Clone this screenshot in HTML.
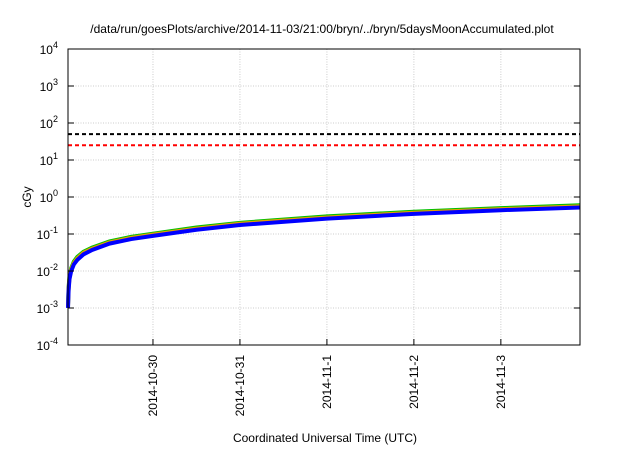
<!DOCTYPE html>
<html><head><meta charset="utf-8"><style>
body{margin:0;background:#fff}
svg{font-family:"Liberation Sans",sans-serif}
</style></head><body>
<svg width="640" height="448">
<text x="322" y="33" font-size="12" text-anchor="middle">/data/run/goesPlots/archive/2014-11-03/21:00/bryn/../bryn/5daysMoonAccumulated.plot</text>
<text transform="translate(31,197) rotate(-90)" font-size="12" text-anchor="middle">cGy</text>
<text x="325" y="442" font-size="12" text-anchor="middle">Coordinated Universal Time (UTC)</text>
<g id="grid"></g><g id="marks"></g><g id="axes"></g>
</svg>
<script>
const xTickDays=[1,2,3,4,5];
const xTickLabels=["2014-10-30","2014-10-31","2014-11-1","2014-11-2","2014-11-3"];
const yTickExps=[-4,-3,-2,-1,0,1,2,3,4];
const days=[0.023,0.03,0.04,0.06,0.09,0.13,0.2,0.3,0.5,0.75,1,1.5,2,3,4,5,5.91];
const blueVals=[0.001,0.003,0.006,0.01,0.015,0.02,0.028,0.037,0.055,0.073,0.089,0.13,0.175,0.26,0.35,0.44,0.52];
const orangeVals=[0.0011,0.0033,0.0066,0.011,0.0165,0.022,0.031,0.04,0.059,0.079,0.096,0.14,0.19,0.28,0.375,0.47,0.56];
const greenVals=[0.0012,0.0036,0.0072,0.012,0.018,0.024,0.033,0.043,0.063,0.084,0.102,0.15,0.2,0.3,0.4,0.5,0.6];
const thresholds=[50,25];
const X0=68,X1=580,Y0=49,Y1=345,D0=0.023,D1=5.91;
const xs=d=>X0+(d-D0)/(D1-D0)*(X1-X0);
const ys=v=>Y1-(Math.log10(v)+4)/8*(Y1-Y0);
const NS="http://www.w3.org/2000/svg";
function mk(p,t,a){const e=document.createElementNS(NS,t);for(const k in a)e.setAttribute(k,a[k]);document.getElementById(p).appendChild(e);return e;}
xTickDays.forEach((d,i)=>{
 const g=mk("grid","line",{x1:xs(d),x2:xs(d),y1:Y0,y2:Y1,stroke:"#ccc","stroke-dasharray":"1,1.5"});
 
 
 const t=mk("axes","line",{x1:xs(d),x2:xs(d),y1:Y1,y2:Y1-6,stroke:"#000"});
 
 
 const l=mk("axes","text",{transform:`translate(${xs(d)+4},355) rotate(-90)`,"font-size":"12","text-anchor":"end"});
 l.textContent=xTickLabels[i];
 
 
});
yTickExps.forEach(e=>{
 const y=ys(Math.pow(10,e));
 if(e>-4&&e<4){const g=mk("grid","line",{x1:X0,x2:X1,y1:y,y2:y,stroke:"#ccc","stroke-dasharray":"1,1.5"});
 
 }
 const t=mk("axes","path",{d:`M${X0},${y}h6M${X1},${y}h-6`,stroke:"#000"});
 
 
 const l=mk("axes","text",{x:58,y:y+5,"font-size":"12","text-anchor":"end"});
 l.innerHTML=`10<tspan dy="-6" font-size="9">${e}</tspan>`;
 
 
});
const tc=["#000","#f00"];
thresholds.forEach((v,i)=>{
 const l=mk("marks","line",{x1:X0,x2:X1,y1:ys(v),y2:ys(v),stroke:tc[i],"stroke-width":2,"stroke-dasharray":"4,3"});
 
 
});
[[greenVals,"#00c000"],[orangeVals,"#e69f00"],[blueVals,"#0000ff"]].forEach(([vals,c])=>{
 const p=mk("marks","polyline",{points:days.map((d,i)=>xs(d)+","+ys(vals[i])).join(" "),fill:"none",stroke:c,"stroke-width":4});
 
 
});
const f=mk("axes","rect",{x:X0,y:Y0,width:X1-X0,height:Y1-Y0,fill:"none",stroke:"#000"});


</script>
</body></html>
